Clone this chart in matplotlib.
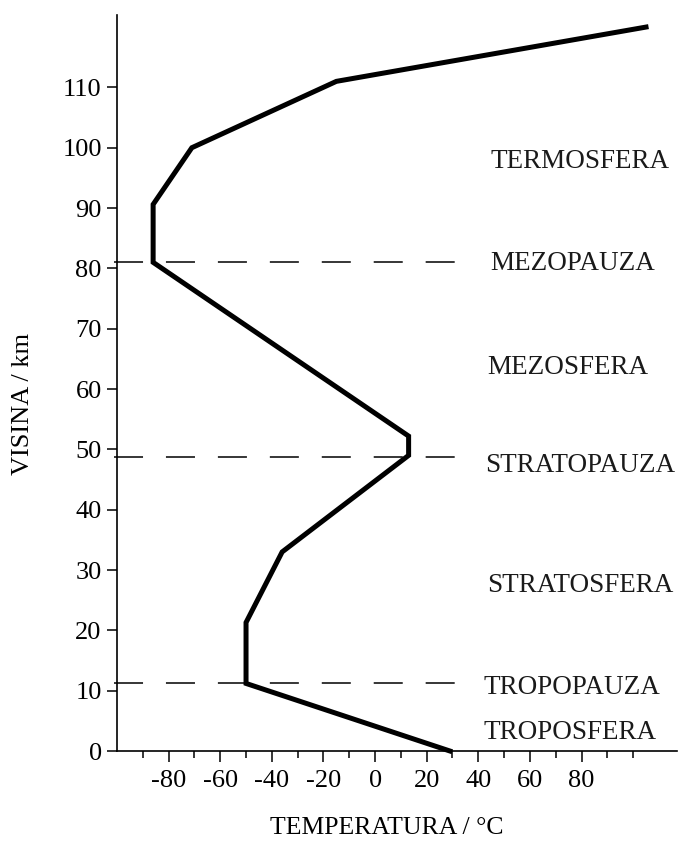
import matplotlib
matplotlib.use("Agg")
import matplotlib.pyplot as plt
from matplotlib.ticker import FixedLocator

plt.rcParams['font.family'] = ['Liberation Serif', 'DejaVu Serif']

# Temperature profile (°C) vs height (km)
temp = [29, -50, -50, -36, 13, 13, -86, -86, -71, -15, 105]
height = [0, 11.2, 21.3, 33, 49, 52.2, 81, 90.6, 100, 111, 120]

# Pause levels (dashed lines)
pause_h = [11.2, 48.7, 81]
pause_end = [31, 36, 36]

# Layer labels
layer_names = ["TERMOSFERA", "MEZOPAUZA", "MEZOSFERA", "STRATOPAUZA",
               "STRATOSFERA", "TROPOPAUZA", "TROPOSFERA"]
layer_h = [97.7, 80.8, 63.6, 47.4, 27.5, 10.6, 3.0]
layer_t = [44.6, 44.6, 43.4, 42.6, 43.4, 41.9, 41.9]

xticks_major = [-80, -60, -40, -20, 0, 20, 40, 60, 80]
xticks_minor = [-90, -70, -50, -30, -10, 10, 30, 50, 70, 90, 100]
yticks = list(range(0, 111, 10))

W, H = 684, 846
fig = plt.figure(figsize=(W / 100, H / 100), dpi=100)
ax = fig.add_axes([117 / W, 95 / H, 560 / W, 736 / H])
ax.set_xlim(-100, 117)
ax.set_ylim(0, 122)

ax.plot(temp, height, color='black', lw=3.6, solid_joinstyle='miter', clip_on=False)
for h, e in zip(pause_h, pause_end):
    ax.plot([-101, e], [h, h], color='black', lw=1.1,
            linestyle=(0, (19, 15)), clip_on=False)

for name, h, t in zip(layer_names, layer_h, layer_t):
    ax.text(t, h, name, ha='left', va='center', fontsize=19.5, color='#1a1a1a')

for s in ['top', 'right']:
    ax.spines[s].set_visible(False)
for s in ['left', 'bottom']:
    ax.spines[s].set_linewidth(1.2)

ax.xaxis.set_major_locator(FixedLocator(xticks_major))
ax.xaxis.set_minor_locator(FixedLocator(xticks_minor))
ax.set_xticklabels([str(v) for v in xticks_major])
ax.yaxis.set_major_locator(FixedLocator(yticks))
ax.set_yticklabels([str(v) for v in yticks])
ax.tick_params(axis='x', which='major', direction='out', length=8, width=1.1,
               labelsize=19, pad=6)
ax.tick_params(axis='x', which='minor', direction='out', length=5, width=1.1)
ax.tick_params(axis='y', which='major', direction='out', length=7, width=1.1,
               labelsize=19, pad=4)

fig.text(387 / W, 1 - 828 / H, "TEMPERATURA / °C", ha='center', va='center',
         fontsize=18.5)
fig.text(23 / W, 1 - 404 / H, "VISINA / km", ha='center', va='center',
         fontsize=19, rotation=90)

fig.savefig("out.png", dpi=100, facecolor='white')
